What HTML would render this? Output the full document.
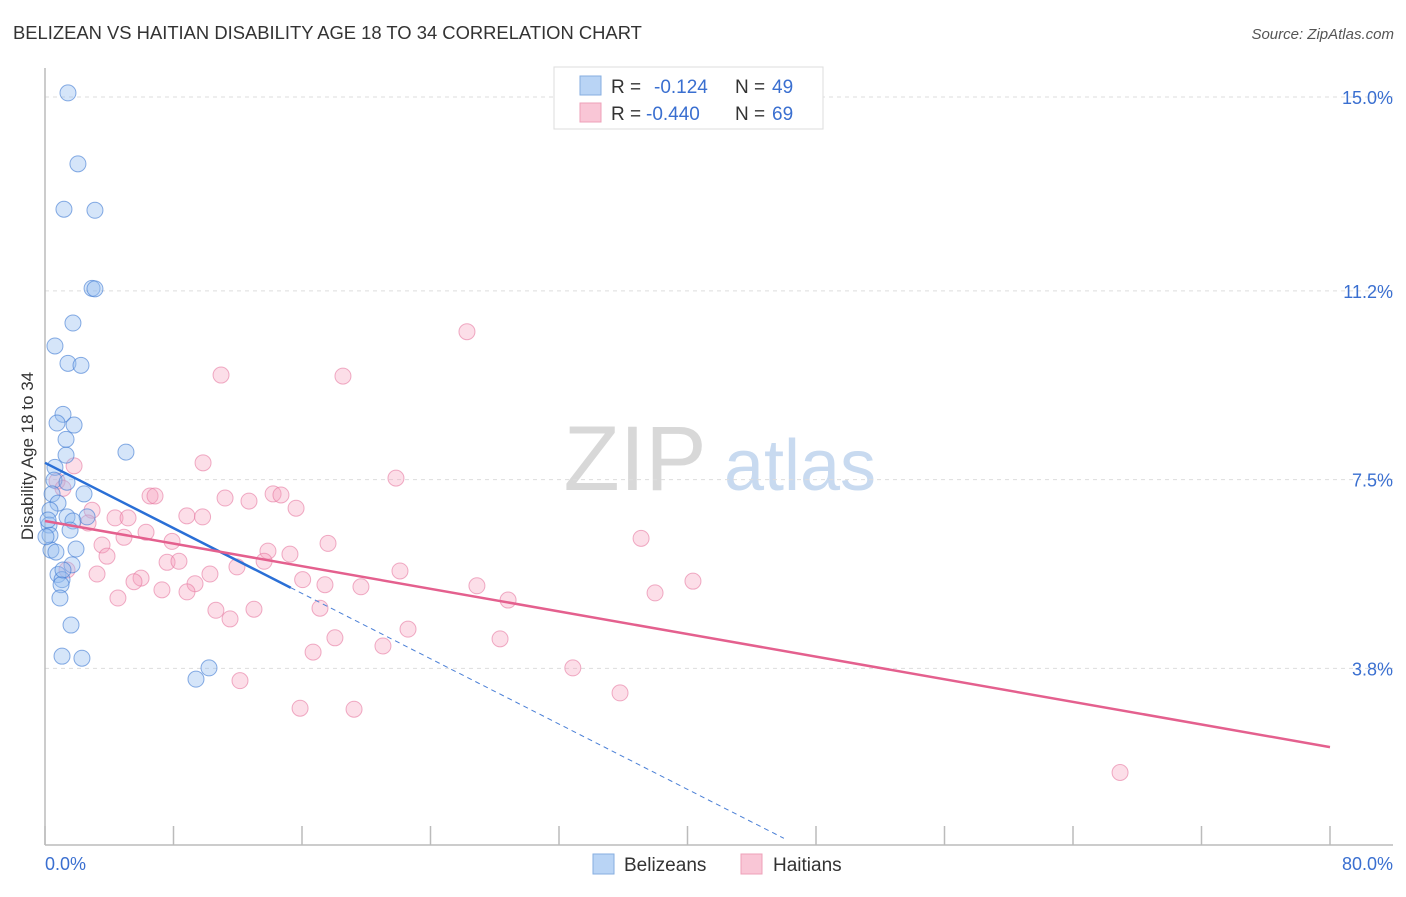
<!DOCTYPE html>
<html><head><meta charset="utf-8"><style>
body{margin:0;background:#fff;font-family:"Liberation Sans",sans-serif;}
svg text{font-family:"Liberation Sans",sans-serif;}
</style></head><body>
<svg id="chart" width="1406" height="892" xmlns="http://www.w3.org/2000/svg">
<text x="13" y="39" font-size="18.4" fill="#333">BELIZEAN VS HAITIAN DISABILITY AGE 18 TO 34 CORRELATION CHART</text>
<text x="1394" y="39" font-size="15" fill="#555" text-anchor="end" font-style="italic">Source: ZipAtlas.com</text>
<text transform="translate(33,456) rotate(-90)" font-size="17" fill="#333" text-anchor="middle">Disability Age 18 to 34</text>
<g>
<text x="635" y="490" font-size="92" fill="#d8d8d8" font-family="Liberation Serif" text-anchor="middle">ZIP</text>
<text x="800" y="490" font-size="72" fill="#c8daf0" text-anchor="middle">atlas</text>
</g>
<g id="grid"></g><g id="axes"></g><g id="pts"></g><g id="lines"></g>
<g>
<rect x="554" y="67" width="269" height="62" fill="#fff" stroke="#ddd"/>
<rect x="580" y="76" width="21" height="19" fill="#b9d4f5" stroke="#86aee0"/>
<text x="611" y="93" font-size="19" fill="#333">R = </text><text x="654" y="93" font-size="19" fill="#3a6fd0">-0.124</text>
<text x="735" y="93" font-size="19" fill="#333">N = </text><text x="772" y="93" font-size="19" fill="#3a6fd0">49</text>
<rect x="580" y="103" width="21" height="19" fill="#f9c6d6" stroke="#eea0b8"/>
<text x="611" y="120" font-size="19" fill="#333">R = </text><text x="646" y="120" font-size="19" fill="#3a6fd0">-0.440</text>
<text x="735" y="120" font-size="19" fill="#333">N = </text><text x="772" y="120" font-size="19" fill="#3a6fd0">69</text>
</g>
<g>
<rect x="593" y="854" width="21" height="20" fill="#b9d4f5" stroke="#86aee0"/>
<text x="624" y="871" font-size="19" fill="#333">Belizeans</text>
<rect x="741" y="854" width="21" height="20" fill="#f9c6d6" stroke="#eea0b8"/>
<text x="773" y="871" font-size="19" fill="#333">Haitians</text>
</g>
</svg>
<script>
const blueX=[1.43,2.05,1.18,3.11,2.93,3.11,1.74,0.62,1.43,2.24,1.12,0.75,1.81,1.31,1.31,5.04,0.62,0.56,1.37,0.44,2.43,0.81,0.31,1.37,2.62,1.74,1.56,0.25,0.31,1.93,0.37,0.68,1.68,0.81,1.06,1.00,0.93,1.62,1.06,2.30,10.21,9.40,0.19,0.06,1.12];
const blueY=[15.08,13.69,12.80,12.78,11.25,11.24,10.57,10.12,9.78,9.74,8.78,8.61,8.57,8.29,7.98,8.04,7.74,7.49,7.45,7.22,7.22,7.04,6.90,6.77,6.77,6.69,6.51,6.61,6.41,6.14,6.12,6.08,5.83,5.64,5.54,5.44,5.18,4.65,4.04,4.00,3.81,3.59,6.71,6.38,5.73];
const pinkX=[26.27,10.96,18.55,1.81,9.84,21.85,0.75,1.12,6.54,6.85,11.21,14.20,14.69,12.70,15.63,2.93,4.36,5.17,8.83,9.81,2.68,6.29,4.92,7.91,17.62,37.11,3.55,13.88,15.25,3.86,13.64,7.60,8.34,11.95,10.27,3.24,22.10,16.04,5.98,5.54,9.34,17.43,19.67,26.89,40.34,7.28,8.84,4.54,37.98,28.83,10.64,13.01,17.12,11.52,22.60,18.05,28.33,21.04,16.69,32.86,12.14,35.80,15.88,19.24,66.93,1.37];
const pinkY=[10.40,9.55,9.53,7.77,7.83,7.53,7.47,7.33,7.18,7.18,7.14,7.22,7.20,7.08,6.94,6.90,6.75,6.75,6.79,6.77,6.65,6.47,6.37,6.29,6.25,6.35,6.22,6.10,6.04,6.00,5.90,5.88,5.90,5.79,5.65,5.65,5.71,5.54,5.57,5.50,5.46,5.44,5.40,5.42,5.51,5.34,5.30,5.18,5.28,5.14,4.94,4.96,4.98,4.77,4.57,4.40,4.38,4.24,4.12,3.81,3.56,3.32,3.02,3.00,1.76,5.73];
const yTicks=[15.0,11.2,7.5,3.8];
const yTickLabels=["15.0%","11.2%","7.5%","3.8%"];
const xTicks=[0,8,16,24,32,40,48,56,64,72,80];
const blueTrend=[7.83,-0.16,15.3,46];
const pinkTrend=[6.69,-0.0554];
const NS="http://www.w3.org/2000/svg";
const xs=v=>45+v*1285/80;
const ys=v=>862.3-v*51.02;
function mk(parent,tag,attrs){const e=document.createElementNS(NS,tag);for(const k in attrs)e.setAttribute(k,attrs[k]);document.getElementById(parent).appendChild(e);return e;}
yTicks.forEach((t,i)=>{
 const l=mk('grid','line',{x1:45,x2:1393,y1:ys(t),y2:ys(t),stroke:'#ddd','stroke-dasharray':'4,4'});
 
 
 const tx=mk('grid','text',{x:1393,y:ys(t)+7,'font-size':18,fill:'#3a6fd0','text-anchor':'end'});
 tx.textContent=yTickLabels[i];
 
 
});
let a=mk('axes','line',{x1:45,x2:45,y1:68,y2:845,stroke:'#bbb','stroke-width':1.5});


a=mk('axes','line',{x1:45,x2:1393,y1:845,y2:845,stroke:'#bbb','stroke-width':1.5});


xTicks.forEach(t=>{const l=mk('axes','line',{x1:xs(t),x2:xs(t),y1:826,y2:845,stroke:'#bbb','stroke-width':1.5});
 
 });
let t0=mk('axes','text',{x:45,y:870,'font-size':18,fill:'#3a6fd0'});t0.textContent='0.0%';


let t1=mk('axes','text',{x:1393,y:870,'font-size':18,fill:'#3a6fd0','text-anchor':'end'});t1.textContent='80.0%';


pinkX.forEach((x,i)=>{const c=mk('pts','circle',{cx:xs(x),cy:ys(pinkY[i]),r:8,fill:'rgba(245,160,190,0.35)',stroke:'rgba(230,120,160,0.6)','stroke-width':1});
 
 });
blueX.forEach((x,i)=>{const c=mk('pts','circle',{cx:xs(x),cy:ys(blueY[i]),r:8,fill:'rgba(150,190,240,0.4)',stroke:'rgba(60,120,210,0.6)','stroke-width':1});
 
 });
const bx2=blueTrend[3];
let L=mk('lines','line',{x1:xs(blueTrend[2]),y1:ys(blueTrend[0]+blueTrend[1]*blueTrend[2]),x2:xs(bx2),y2:ys(blueTrend[0]+blueTrend[1]*bx2),stroke:'#4a7fd6','stroke-width':1,'stroke-dasharray':'5,4'});


L=mk('lines','line',{x1:xs(0),y1:ys(blueTrend[0]),x2:xs(blueTrend[2]),y2:ys(blueTrend[0]+blueTrend[1]*blueTrend[2]),stroke:'#2a6fd6','stroke-width':2.5});


L=mk('lines','line',{x1:xs(0),y1:ys(pinkTrend[0]),x2:xs(80),y2:ys(pinkTrend[0]+pinkTrend[1]*80),stroke:'#e4608e','stroke-width':2.5});


</script>
</body></html>
